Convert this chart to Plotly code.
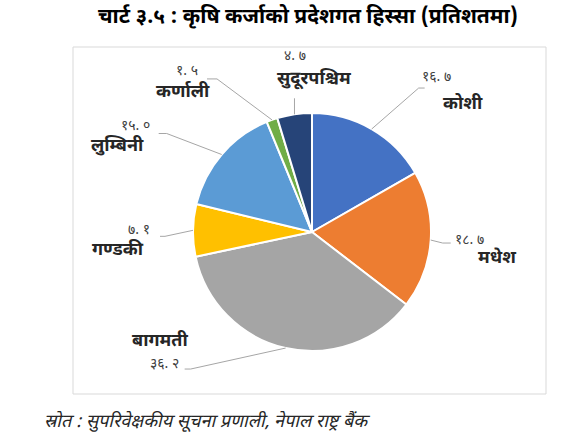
"""Pie chart: province-wise share of agricultural loans (percent)"""
import math
import plotly.graph_objects as go

# data
provinces = ["कोशी", "मधेश", "बागमती", "गण्डकी", "लुम्बिनी", "कर्णाली", "सुदूरपश्चिम"]
shares = [16.7, 18.7, 36.2, 7.1, 15.0, 1.5, 4.7]
colors = ["#4472C4", "#ED7D31", "#A5A5A5", "#FFC000", "#5B9BD5", "#70AD47", "#264478"]

TITLE = "चार्ट ३.५ : कृषि कर्जाको प्रदेशगत हिस्सा (प्रतिशतमा)"
SOURCE = "स्रोत : सुपरिवेक्षकीय सूचना प्रणाली, नेपाल राष्ट्र बैंक"

W, H = 577, 439
FONT = "Noto Sans Devanagari, Lohit Devanagari, Mukta, sans-serif"

# pie geometry in pixels
CX, CY, R = 312, 232, 119

# label layout: leader path offsets and value / name offsets from the rim point
LEADERS = [
    [(0, 0), (47, -41), (53, -41)],
    [(0, 0), (12, 3), (20, 3)],
    [(0, 0), (-95, 21), (-101, 21)],
    [(0, 0), (-28, 6), (-33, 6)],
    [(0, 0), (-55, -21), (-63, -21)],
    [(0, 0), (-55, -41), (-65, -41)],
    [(0, 0), (0, -16)],
]
VALUE_OFF = [(65, -52), (39, 0), (-121, 16), (-54, 0), (-86, -28), (-85, -48), (1, -58)]
NAME_OFF = [(91, -25), (66, 18), (-126, -7), (-75, 20), (-104, -8), (-89, -28), (20, -35)]

DEV_DIGITS = str.maketrans("0123456789", "०१२३४५६७८९")


def px(x):
    return x / W


def py(y):
    return 1 - y / H


def to_dev(v):
    return f"{v:.1f}".translate(DEV_DIGITS).replace(".", ". ")


def text_at(text, x, y, size, color, **kw):
    return dict(text=text, x=px(x), y=py(y), xref="paper", yref="paper",
                xanchor=kw.pop("xanchor", "center"), yanchor="middle",
                showarrow=False, font=dict(size=size, color=color, family=FONT), **kw)


fig = go.Figure(
    go.Pie(
        labels=provinces,
        values=shares,
        sort=False,
        direction="clockwise",
        rotation=0,
        marker=dict(colors=colors, line=dict(color="white", width=2)),
        textinfo="none",
        hoverinfo="label+value",
        showlegend=False,
        domain=dict(x=[px(CX - R), px(CX + R)], y=[py(CY + R), py(CY - R)]),
    )
)

total = sum(shares)
cum = 0
shapes = []
annotations = []
for i, (name, v) in enumerate(zip(provinces, shares)):
    mid = (cum + v / 2) / total * 2 * math.pi
    cum += v
    rx = CX + R * math.sin(mid)
    ry = CY - R * math.cos(mid)
    path = " ".join(
        ("M" if k == 0 else "L") + f" {px(rx + dx):.5f},{py(ry + dy):.5f}"
        for k, (dx, dy) in enumerate(LEADERS[i])
    )
    shapes.append(
        dict(type="path", xref="paper", yref="paper", path=path,
             line=dict(color="#A6A6A6", width=1))
    )
    vx, vy = VALUE_OFF[i]
    nx, ny = NAME_OFF[i]
    annotations.append(text_at(to_dev(v), rx + vx, ry + vy, 14, "#404040"))
    annotations.append(text_at(f"<b>{name}</b>", rx + nx, ry + ny, 18, "#262626"))

# chart frame
shapes.append(
    dict(type="rect", xref="paper", yref="paper", x0=px(73), x1=px(546), y0=py(394), y1=py(47),
         line=dict(color="#D9D9D9", width=1), layer="below")
)

annotations.append(text_at(f"<b>{TITLE}</b>", 308, 18, 21, "black"))
annotations.append(text_at(f"<i>{SOURCE}</i>", 42, 422, 18, "#262626", xanchor="left"))

fig.update_layout(
    width=W,
    height=H,
    margin=dict(t=0, l=0, r=0, b=0),
    paper_bgcolor="white",
    plot_bgcolor="white",
    shapes=shapes,
    annotations=annotations,
)

fig.write_html(
    "out.html",
    config={"displayModeBar": False},
    post_script="document.body.style.margin = '0px';",
)
